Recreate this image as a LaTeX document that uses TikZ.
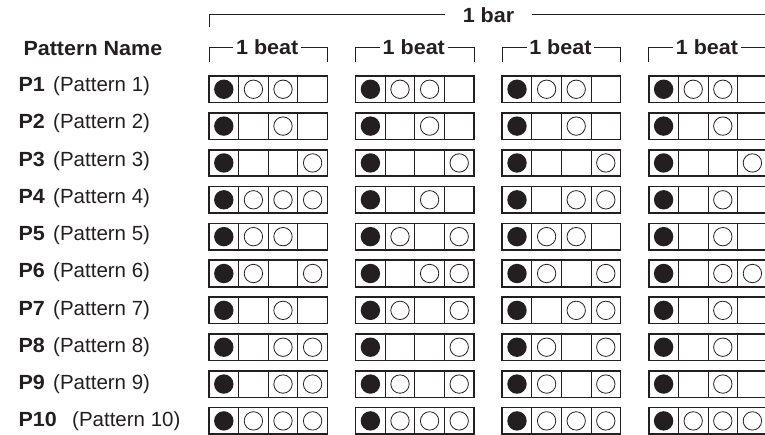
\documentclass[tikz,border=0pt]{standalone}
\usepackage{fontspec}
\setmainfont{Liberation Sans}[BoldFeatures={FakeStretch=1.05}]
\usepackage{tikz}
\usetikzlibrary{positioning}
\definecolor{ink}{RGB}{35,31,32}

\begin{document}
\begin{tikzpicture}[x=1pt, y=-1pt,
  cell/.style={draw=ink, line width=0.9pt, minimum width=29.6pt, minimum height=26.5pt, inner sep=0pt, outer sep=0pt},
  frame/.style={draw=ink, line width=1.6pt},
  bracket/.style={draw=ink, line width=1pt},
  head/.style={font=\fontsize{20.5}{21}\selectfont\bfseries, text=ink, inner ysep=0pt, inner xsep=2.5pt},
  pname/.style={font=\fontsize{20.5}{21}\selectfont\bfseries, text=ink, inner sep=0pt, anchor=base west},
  pdesc/.style={font=\fontsize{20.5}{21}\selectfont, text=ink, inner sep=0pt}
]
\useasboundingbox (0,0) rectangle (765,434);
\clip (0,0) rectangle (765,434);

% headings
\node[pname] (title) at (23.3,55.7) {Pattern Name};
\node[head, inner xsep=18pt] (bar) at (488.5,14.7) {1 bar};
\coordinate (barL) at (209,26.7);
\coordinate (barR) at (767.2,26.7);
\draw[bracket] (barL) |- (bar.west);
\draw[bracket] (bar.east) -| (barR);

\foreach \g in {0,...,3} {
  \pgfmathsetmacro\gx{209+146.6*\g}
  \node[head] (beat\g) at (\gx+58.2,47.3) {1 beat};
  \coordinate (beatL\g) at (\gx,61.7);
  \coordinate (beatR\g) at (\gx+118.4,61.7);
  \draw[bracket] (beatL\g) |- (beat\g.west);
  \draw[bracket] (beat\g.east) -| (beatR\g);
}

% one row per pattern: cells 2-4 of each beat, 2 = open circle, 0 = empty
\foreach \pat [count=\r] in {
  {2,2,0, 2,2,0, 2,2,0, 2,2,0},
  {0,2,0, 0,2,0, 0,2,0, 0,2,0},
  {0,0,2, 0,0,2, 0,0,2, 0,0,2},
  {2,2,2, 0,2,0, 0,2,2, 0,2,0},
  {2,2,0, 2,0,2, 2,2,0, 0,2,0},
  {2,0,2, 0,2,2, 2,0,2, 0,2,2},
  {0,2,0, 2,0,2, 0,2,2, 0,2,0},
  {0,2,2, 0,0,2, 2,0,2, 0,2,0},
  {0,2,2, 2,0,2, 2,0,2, 0,2,0},
  {2,2,2, 2,2,2, 2,2,2, 2,2,2}} {
  \pgfmathsetmacro\ry{76+36.85*(\r-1)}
  \pgfmathsetmacro\gap{ifthenelse(\r==10,15,8)}
  \node[pname] (p\r) at (18.3,91.5+37.25*\r-37.25) {P\r};
  \node[pdesc, right=\gap pt of p\r.base east, anchor=base west] (d\r) {(Pattern \r)};
  \foreach \g in {0,...,3} {
    \pgfmathsetmacro\gx{209+146.6*\g}
    \foreach \k in {1,...,4}
      \node[cell] (c\r-\g-\k) at (\gx+29.6*\k-14.8,\ry+13.25) {};
    \draw[frame] (c\r-\g-1.north west) rectangle (c\r-\g-4.south east);
    \fill[ink] (c\r-\g-1) circle (9.7);
  }
  \foreach \v [count=\k] in \pat {
    \pgfmathtruncatemacro\bt{(\k-1)/3}
    \pgfmathtruncatemacro\cc{mod(\k-1,3)+2}
    \ifnum\v=2 \draw[ink, line width=0.8pt] (c\r-\bt-\cc) circle (9.2); \fi
  }
}
\end{tikzpicture}
\end{document}
